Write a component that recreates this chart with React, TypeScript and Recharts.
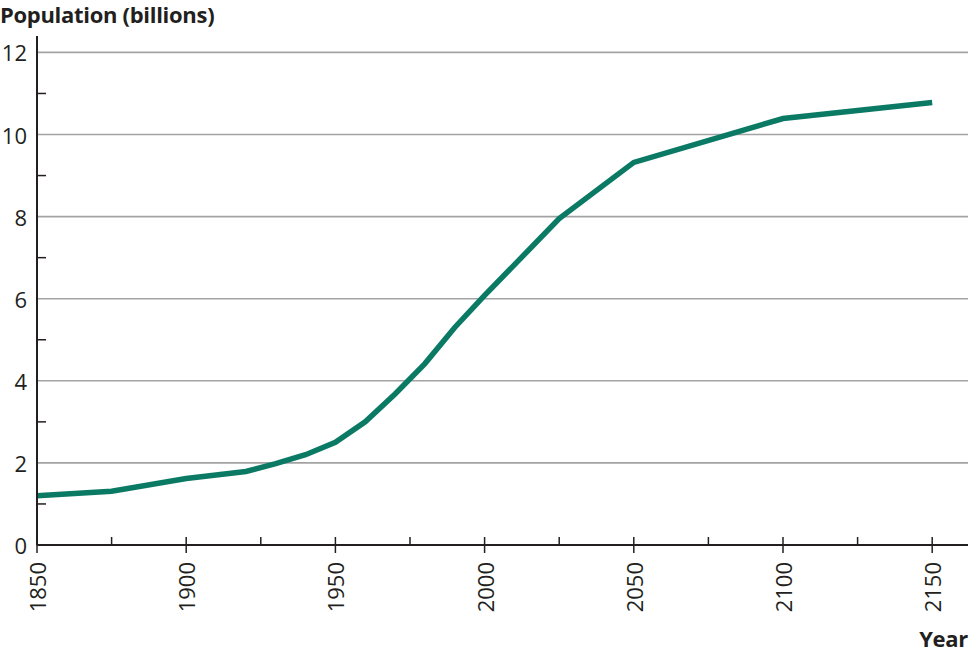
import { LineChart, Line, XAxis, YAxis, ReferenceLine } from "recharts";

// population series
const YEARS = [1850, 1875, 1900, 1920, 1930, 1940, 1950, 1960, 1970, 1980, 1990, 2000, 2025, 2050, 2100, 2150];
const POPULATION = [1.2, 1.31, 1.62, 1.79, 1.98, 2.2, 2.5, 3.0, 3.68, 4.42, 5.3, 6.08, 7.95, 9.32, 10.39, 10.78];

const X_TICKS = [1850, 1875, 1900, 1925, 1950, 1975, 2000, 2025, 2050, 2075, 2100, 2125, 2150];
const Y_TICKS = [0, 1, 2, 3, 4, 5, 6, 7, 8, 9, 10, 11, 12];
const GRID_VALUES = [2, 4, 6, 8, 10, 12];

const data = YEARS.map((year, i) => ({ year, pop: POPULATION[i] }));

const FONT = "'Open Sans', 'Noto Sans', sans-serif";
const AXIS = "#231f20";
const LINE = "#0b7a65";

function YTick(props: any) {
  const { x, y, payload } = props;
  const v = payload.value as number;
  if (v % 2 === 1) {
    return <line x1={x} x2={x + 9} y1={y} y2={y} stroke={AXIS} strokeWidth={1.5} />;
  }
  return (
    <text x={x - 10} y={y} textAnchor="end" dominantBaseline="central" fill={AXIS} fontSize={22} fontFamily={FONT}>
      {v}
    </text>
  );
}

function XTick(props: any) {
  const { x, y, payload } = props;
  const v = payload.value as number;
  const major = v % 50 === 0;
  return (
    <g>
      <line x1={x} x2={x} y1={y - 8} y2={major ? y + 8 : y} stroke={AXIS} strokeWidth={1.5} />
      {major && (
        <text
          x={0}
          y={0}
          transform={`translate(${x},${y + 17}) rotate(-90)`}
          textAnchor="end"
          dominantBaseline="central"
          fill={AXIS}
          fontSize={22}
          fontFamily={FONT}
        >
          {v}
        </text>
      )}
    </g>
  );
}

export default function App() {
  return (
    <div style={{ position: "absolute", left: 0, top: 0, width: 969, height: 653, background: "#fff" }}>
      <div
        style={{
          position: "absolute",
          left: 0,
          top: 0,
          fontFamily: FONT,
          fontWeight: 700,
          fontSize: 22,
          color: AXIS,
          lineHeight: "28px",
          whiteSpace: "nowrap",
          letterSpacing: -0.3,
        }}
      >
        Population (billions)
      </div>
      <div
        style={{
          position: "absolute",
          right: 1,
          top: 624,
          fontFamily: FONT,
          fontWeight: 700,
          fontSize: 22,
          color: AXIS,
          lineHeight: "28px",
          letterSpacing: -0.3,
        }}
      >
        Year
      </div>
      <LineChart width={969} height={653} data={data} margin={{ top: 36, right: 1, bottom: 0, left: 0 }}>
        {GRID_VALUES.map((g) => (
          <ReferenceLine key={g} y={g} stroke="#a3a3a3" strokeWidth={1.6} />
        ))}
        <XAxis
          type="number"
          dataKey="year"
          domain={[1850, 2162]}
          ticks={X_TICKS}
          interval={0}
          height={108}
          tickSize={0}
          tickMargin={0}
          tick={<XTick />}
          axisLine={{ stroke: AXIS, strokeWidth: 2 }}
        />
        <YAxis
          type="number"
          domain={[0, 12.4]}
          ticks={Y_TICKS}
          interval={0}
          width={37}
          tickSize={0}
          tickMargin={0}
          tick={<YTick />}
          axisLine={{ stroke: AXIS, strokeWidth: 2 }}
        />
        <Line
          type="linear"
          dataKey="pop"
          stroke={LINE}
          strokeWidth={5.5}
          dot={false}
          activeDot={false}
          isAnimationActive={false}
        />
      </LineChart>
    </div>
  );
}
